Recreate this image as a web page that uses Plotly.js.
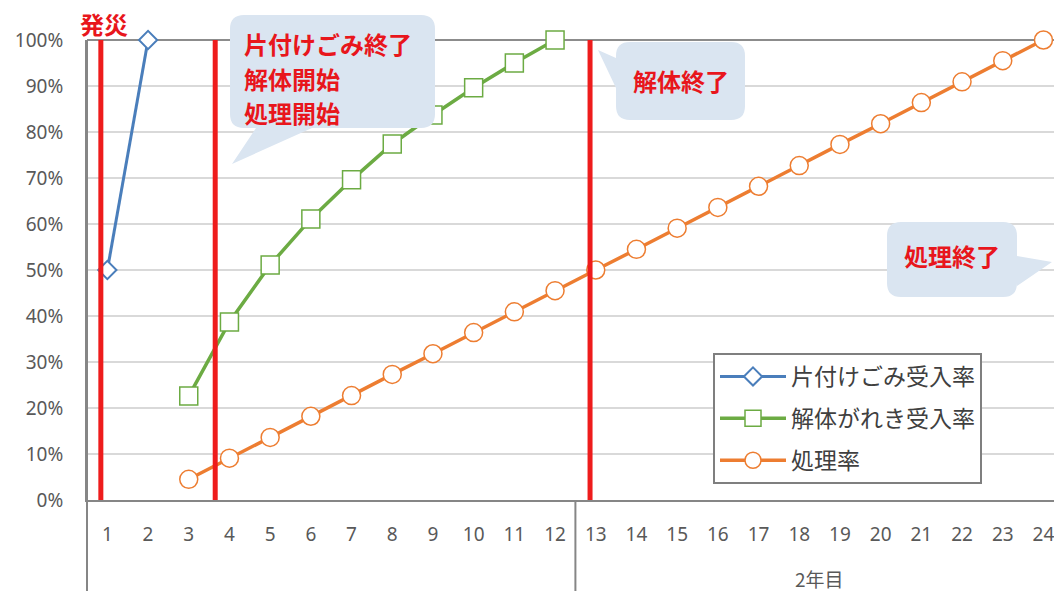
<!DOCTYPE html>
<html>
<head>
<meta charset="utf-8">
<script src="https://cdn.plot.ly/plotly-3.0.1.min.js"></script>
<style>
html,body{margin:0;padding:0;background:#fff;}
#chart{width:1054px;height:591px;}
</style>
</head>
<body>
<div id="chart"></div>
<script>
// ---- data ----
const months = [1,2,3,4,5,6,7,8,9,10,11,12,13,14,15,16,17,18,19,20,21,22,23,24];
const monthLabels = ['1','2','3','4','5','6','7','8','9','10','11','12','13','14','15','16','17','18','19','20','21','22','23','24'];
const seriesNames = ['片付けごみ受入率','解体がれき受入率','処理率'];
const katazukeX = [1,2];
const katazukeY = [0.50,1.00];
const kaitaiX = [3,4,5,6,7,8,9,10,11,12];
const kaitaiY = [0.226,0.387,0.511,0.611,0.696,0.774,0.837,0.896,0.950,1.000];
const shoriX = [3,4,5,6,7,8,9,10,11,12,13,14,15,16,17,18,19,20,21,22,23,24];
const shoriY = [0.045,0.091,0.136,0.182,0.227,0.273,0.318,0.364,0.409,0.455,0.500,0.545,0.591,0.636,0.682,0.727,0.773,0.818,0.864,0.909,0.955,1.000];
const eventLines = [0.84,3.65,12.86];
const eventLabel = '発災';
const calloutTexts = [['片付けごみ終了','解体開始','処理開始'],['解体終了'],['処理終了']];
const yearLabel = '2年目';

// ---- layout geometry helpers (pixel -> paper) ----
const W = 1054, H = 591, ML = 87, MT = 40, MR = 0, MB = 91;
const PW = W-ML-MR, PH = H-MT-MB;
const px = x => (x-ML)/PW;
const py = y => (H-MB-y)/PH;
function pathFrom(cmds){
  return cmds.map(c=>{
    if(c[0]==='Z') return 'Z';
    const pts=[];
    for(let i=1;i<c.length;i+=2) pts.push(px(c[i]).toFixed(5)+','+py(c[i+1]).toFixed(5));
    return c[0]+' '+pts.join(' ');
  }).join(' ');
}
const r = 14;
const box1 = pathFrom([
  ['M',230+r,15],['L',435-r,15],['Q',435,15,435,15+r],['L',435,128-r],['Q',435,128,435-r,128],
  ['L',312,128],['L',232,164],['L',256,128],['L',230+r,128],['Q',230,128,230,128-r],
  ['L',230,15+r],['Q',230,15,230+r,15],['Z']]);
const box2 = pathFrom([
  ['M',616+r,42],['L',745-r,42],['Q',745,42,745,42+r],['L',745,120-r],['Q',745,120,745-r,120],
  ['L',616+r,120],['Q',616,120,616,120-r],['L',616,88],['L',598,50],['L',616,58],
  ['L',616,42+r],['Q',616,42,616+r,42],['Z']]);
const box3 = pathFrom([
  ['M',887+r,222],['L',1017-r,222],['Q',1017,222,1017,222+r],['L',1017,256],['L',1052,262],['L',1017,286],
  ['L',1017,297-r],['Q',1017,297,1017-r,297],['L',887+r,297],['Q',887,297,887,297-r],
  ['L',887,222+r],['Q',887,222,887+r,222],['Z']]);

const calloutFill = '#dae5f1';
const red = '#ee1c1c';
const redText = '#e8161c';

const traces = [
  {x:katazukeX, y:katazukeY, name:seriesNames[0], type:'scatter', mode:'lines+markers', cliponaxis:false,
   legendgroup:'a',
   line:{color:'#4a7ebb', width:3},
   marker:{symbol:'diamond', size:14, color:'#ffffff', line:{color:'#4a7ebb', width:2}}},
  {x:kaitaiX, y:kaitaiY, name:seriesNames[1], type:'scatter', mode:'lines+markers', cliponaxis:false,
   legendgroup:'b',
   line:{color:'#6cab43', width:3.5},
   marker:{symbol:'square', size:18, color:'#ffffff', line:{color:'#6cab43', width:1.5}}},
  {x:shoriX, y:shoriY, name:seriesNames[2], type:'scatter', mode:'lines+markers', cliponaxis:false,
   legendgroup:'c',
   line:{color:'#ed7d31', width:3.5},
   marker:{symbol:'circle', size:18, color:'#ffffff', line:{color:'#ed7d31', width:1.5}}}
];

const shapes = [];
shapes.push({type:'line', xref:'paper', yref:'paper', x0:0, x1:1, y0:1, y1:1, line:{color:'#8c8c8c', width:2}, layer:'below'});
shapes.push({type:'line', xref:'paper', yref:'paper', x0:0, x1:0, y0:1, y1:py(H), line:{color:'#868686', width:2}});
shapes.push({type:'line', xref:'x', yref:'paper', x0:12.5, x1:12.5, y0:0, y1:py(H), line:{color:'#868686', width:2}});
eventLines.forEach(v=>shapes.push({type:'line', xref:'x', yref:'y', x0:v, x1:v, y0:0, y1:1, line:{color:red, width:5}, layer:'above'}));
[box1,box2,box3].forEach(p=>shapes.push({type:'path', xref:'paper', yref:'paper', path:p, fillcolor:calloutFill, line:{width:0}, layer:'above'}));

const cjk = '"Noto Sans CJK JP", "Noto Sans", sans-serif';
const annotations = [];
annotations.push({xref:'paper', yref:'paper', x:px(104), y:py(24), text:eventLabel, showarrow:false,
  xanchor:'center', yanchor:'middle', font:{family:cjk, size:24, color:redText, weight:700}});
const l1y = [44,79,112];
calloutTexts[0].forEach((t,i)=>annotations.push({xref:'paper', yref:'paper', x:px(242), y:py(l1y[i]), text:t, showarrow:false,
  xanchor:'left', yanchor:'middle', font:{family:cjk, size:24, color:redText, weight:700}}));
annotations.push({xref:'paper', yref:'paper', x:px(681), y:py(80), text:calloutTexts[1][0], showarrow:false,
  xanchor:'center', yanchor:'middle', font:{family:cjk, size:24, color:redText, weight:700}});
annotations.push({xref:'paper', yref:'paper', x:px(952), y:py(256), text:calloutTexts[2][0], showarrow:false,
  xanchor:'center', yanchor:'middle', font:{family:cjk, size:24, color:redText, weight:700}});
annotations.push({xref:'x', yref:'paper', x:18.5, y:py(578), text:yearLabel, showarrow:false,
  xanchor:'center', yanchor:'middle', font:{family:cjk, size:19, color:'#595959'}});

const layout = {
  width:W, height:H,
  margin:{l:ML, r:MR, t:MT, b:MB, pad:0},
  paper_bgcolor:'#ffffff', plot_bgcolor:'#ffffff',
  showlegend:true,
  legend:{x:px(713), y:py(353), xanchor:'left', yanchor:'top', bgcolor:'#ffffff',
    bordercolor:'#7f7f7f', borderwidth:2, traceorder:'grouped', tracegroupgap:9,
    itemwidth:66, font:{family:cjk, size:23, color:'#404040'}},
  xaxis:{range:[0.5, 0.5+(W-ML)/40.7], tickmode:'array', tickvals:months, ticktext:monthLabels,
    showgrid:false, zeroline:false, showline:true, linecolor:'#868686', linewidth:2,
    ticks:'', ticklabelstandoff:16, ticklabeloverflow:'allow',
    tickfont:{family:'"Noto Sans", sans-serif', size:19, color:'#595959'}, fixedrange:true},
  yaxis:{range:[0,1], dtick:0.1, tick0:0, tickformat:'.0%', showgrid:true, gridcolor:'#d9d9d9', gridwidth:2,
    zeroline:false, showline:true, linecolor:'#868686', linewidth:2, ticks:'', ticklabelstandoff:18,
    tickfont:{family:'"Noto Sans", sans-serif', size:19, color:'#595959'}, fixedrange:true},
  shapes:shapes,
  annotations:annotations
};

Plotly.newPlot('chart', traces, layout, {displayModeBar:false, staticPlot:true});
</script>
</body>
</html>
